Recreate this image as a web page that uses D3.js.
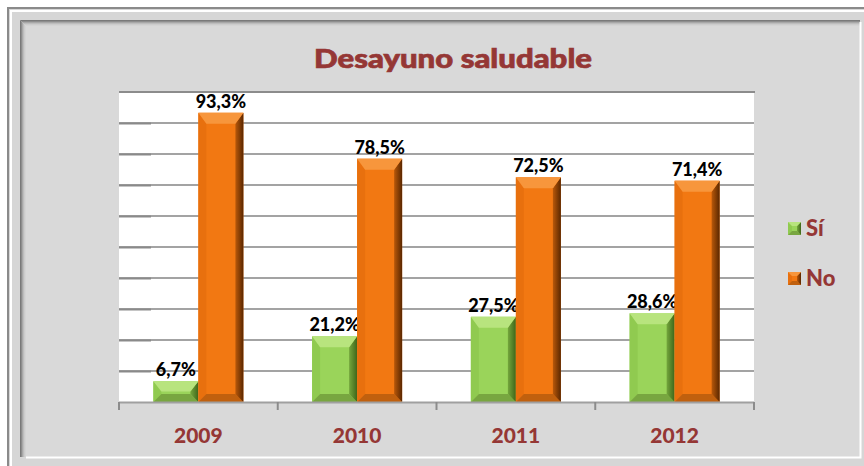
<!DOCTYPE html>
<html>
<head>
<meta charset="utf-8">
<script src="https://cdn.jsdelivr.net/npm/d3@7/dist/d3.min.js"></script>
<style>
  html, body { margin: 0; padding: 0; background: #ffffff; }
  svg { display: block; }
</style>
</head>
<body>
<svg id="chart" width="864" height="466"></svg>
<script>
// Data
const years = ["2009", "2010", "2011", "2012"];
const seriesNames = ["Sí", "No"];
const siValues = [6.7, 21.2, 27.5, 28.6];
const noValues = [93.3, 78.5, 72.5, 71.4];
const gridTicks = [10, 20, 30, 40, 50, 60, 70, 80, 90];

const title = "Desayuno saludable";
const fmt = v => d3.format(".1f")(v).replace(".", ",") + "%";

// Bevel palettes per series
const palette = {
  "Sí": { main: "#9ad45a", top: "#b8e47e", left: "#90ca50", rightA: "#74a63c", rightB: "#3f661a", bottom: "#78a640" },
  "No": { main: "#f27812", top: "#f7963c", left: "#e8700e", rightA: "#b8580a", rightB: "#5a2700", bottom: "#c0600e" }
};

const svg = d3.select("#chart");
const W = 864, H = 466;
const textRed = "#953735";

// Outer frame
svg.append("rect").attr("x", 8).attr("y", 8).attr("width", W - 8).attr("height", H - 8).attr("fill", "#d6d6d6");
svg.append("path").attr("d", `M8,${H} L8,8 L${W},8`).attr("fill", "none").attr("stroke", "#8a8a8a").attr("stroke-width", 2);
svg.append("path").attr("d", `M11,${H} L11,11 L${W},11`).attr("fill", "none").attr("stroke", "#ffffff").attr("stroke-width", 2);

// Inner panel with inset edge
const px0 = 20, py0 = 20, px1 = 861, py1 = 458;
svg.append("rect").attr("x", px0).attr("y", py0).attr("width", px1 - px0).attr("height", py1 - py0).attr("fill", "#d9d9d9");
const edgeShades = ["#7a7a7a", "#8e8e8e", "#a8a8a8", "#bdbdbd", "#cccccc", "#d4d4d4"];
edgeShades.forEach((c, i) => {
  svg.append("path")
    .attr("d", `M${px0 + i + 0.5},${py1 - 1} L${px0 + i + 0.5},${py0 + i + 0.5} L${px1 - 1},${py0 + i + 0.5}`)
    .attr("fill", "none").attr("stroke", c).attr("stroke-width", 1);
});
svg.append("path").attr("d", `M${px0 + 6},${py1 - 0.5} L${px1 - 0.5},${py1 - 0.5} L${px1 - 0.5},${py0 + 2}`)
  .attr("fill", "none").attr("stroke", "#ffffff").attr("stroke-width", 2);

// Title
svg.append("text")
  .attr("x", 453).attr("y", 68)
  .attr("text-anchor", "middle")
  .attr("font-family", "Lato, 'Open Sans', sans-serif")
  .attr("font-weight", 900)
  .attr("font-size", 26)
  .attr("fill", textRed)
  .attr("stroke", textRed)
  .attr("stroke-width", 0.7)
  .attr("textLength", 278)
  .attr("lengthAdjust", "spacingAndGlyphs")
  .text(title);

// Plot area
const plot = { left: 119, right: 754, top: 92, bottom: 402 };
const x0 = d3.scaleBand().domain(years).range([plot.left, plot.right]).padding(0);
const bw = x0.bandwidth();
const groupFrac = 0.567;
const x1 = d3.scaleBand().domain(seriesNames)
  .range([bw * (1 - groupFrac) / 2, bw * (1 + groupFrac) / 2]).padding(0);
const y = d3.scaleLinear().domain([0, 100]).range([plot.bottom, plot.top]);

svg.append("rect")
  .attr("x", plot.left).attr("y", plot.top)
  .attr("width", plot.right - plot.left).attr("height", plot.bottom - plot.top)
  .attr("fill", "#ffffff");

// Gridlines
const grid = svg.append("g");
grid.selectAll("line.g").data(gridTicks).join("line")
  .attr("x1", plot.left).attr("x2", plot.right)
  .attr("y1", d => y(d)).attr("y2", d => y(d))
  .attr("stroke", "#a3a3a3").attr("stroke-width", 2);
grid.selectAll("line.gd").data(gridTicks).join("line")
  .attr("x1", plot.left).attr("x2", plot.left + 32)
  .attr("y1", d => y(d) + 0.5).attr("y2", d => y(d) + 0.5)
  .attr("stroke", "#8a8a8a").attr("stroke-width", 2);
grid.append("line")
  .attr("x1", plot.left).attr("x2", plot.right + 1)
  .attr("y1", y(100)).attr("y2", y(100))
  .attr("stroke", "#8c8c8c").attr("stroke-width", 2);

// Gradients for bar right facets
const defs = svg.append("defs");
seriesNames.forEach((s, i) => {
  const g = defs.append("linearGradient").attr("id", "rg" + i).attr("x1", "0").attr("x2", "1").attr("y1", "0").attr("y2", "0");
  g.append("stop").attr("offset", "0").attr("stop-color", palette[s].rightA);
  g.append("stop").attr("offset", "1").attr("stop-color", palette[s].rightB);
});

// Bevelled bar
function bevelBar(g, x, yTop, w, h, pal, gradId, bTop, bSide) {
  const bt = Math.min(bTop, h / 2), bs = Math.min(bSide, w / 2);
  const bb = Math.min(bSide, h / 2);
  const xr = x + w, yb = yTop + h;
  g.append("rect").attr("x", x).attr("y", yTop).attr("width", w).attr("height", h).attr("fill", pal.main);
  g.append("path").attr("fill", pal.left)
    .attr("d", `M${x},${yTop} L${x + bs},${yTop + bt} L${x + bs},${yb - bb} L${x},${yb} Z`);
  g.append("path").attr("fill", pal.bottom)
    .attr("d", `M${x},${yb} L${x + bs},${yb - bb} L${xr - bs},${yb - bb} L${xr},${yb} Z`);
  g.append("path").attr("fill", `url(#${gradId})`)
    .attr("d", `M${xr},${yTop} L${xr - bs},${yTop + bt} L${xr - bs},${yb - bb} L${xr},${yb} Z`);
  g.append("path").attr("fill", pal.top)
    .attr("d", `M${x},${yTop} L${xr},${yTop} L${xr - bs},${yTop + bt} L${x + bs},${yTop + bt} Z`);
}

const seriesData = [
  { name: "Sí", values: siValues },
  { name: "No", values: noValues }
];

const bars = svg.append("g");
seriesData.forEach((s, si) => {
  s.values.forEach((v, i) => {
    const bx = x0(years[i]) + x1(s.name);
    const w = x1.bandwidth();
    const yt = y(v);
    bevelBar(bars, bx, yt, w, y(0) - yt, palette[s.name], "rg" + si, 11, 8);
    bars.append("text")
      .attr("x", bx + w / 2).attr("y", yt - 5)
      .attr("text-anchor", "middle")
      .attr("font-family", "Lato, 'Open Sans', sans-serif")
      .attr("font-weight", 900).attr("font-size", 18)
      .attr("fill", "#000000")
      .text(fmt(v));
  });
});

// X axis
const xAxis = svg.append("g");
xAxis.append("line")
  .attr("x1", plot.left).attr("x2", plot.right)
  .attr("y1", plot.bottom + 0.5).attr("y2", plot.bottom + 0.5)
  .attr("stroke", "#a0a0a0").attr("stroke-width", 2);
const tickPos = years.map(d => x0(d)).concat([plot.right]);
xAxis.selectAll("line.t").data(tickPos).join("line")
  .attr("x1", d => d).attr("x2", d => d)
  .attr("y1", plot.bottom).attr("y2", plot.bottom + 8)
  .attr("stroke", "#8c8c8c").attr("stroke-width", 2);
xAxis.selectAll("text").data(years).join("text")
  .attr("x", d => x0(d) + bw / 2).attr("y", 443)
  .attr("text-anchor", "middle")
  .attr("font-family", "Lato, 'Open Sans', sans-serif")
  .attr("font-weight", 900).attr("font-size", 21)
  .attr("fill", textRed)
  .text(d => d);

// Legend
const legend = svg.append("g");
const legendY = [228, 278];
seriesNames.forEach((s, i) => {
  const pal = palette[s];
  bevelBar(legend, 788, legendY[i] - 6, 13, 13, pal, "rg" + i, 4, 4);
  legend.append("text")
    .attr("x", 806).attr("y", legendY[i] + 8)
    .attr("font-family", "Lato, 'Open Sans', sans-serif")
    .attr("font-weight", 900).attr("font-size", 22)
    .attr("fill", textRed)
    .text(s);
});
</script>
</body>
</html>
